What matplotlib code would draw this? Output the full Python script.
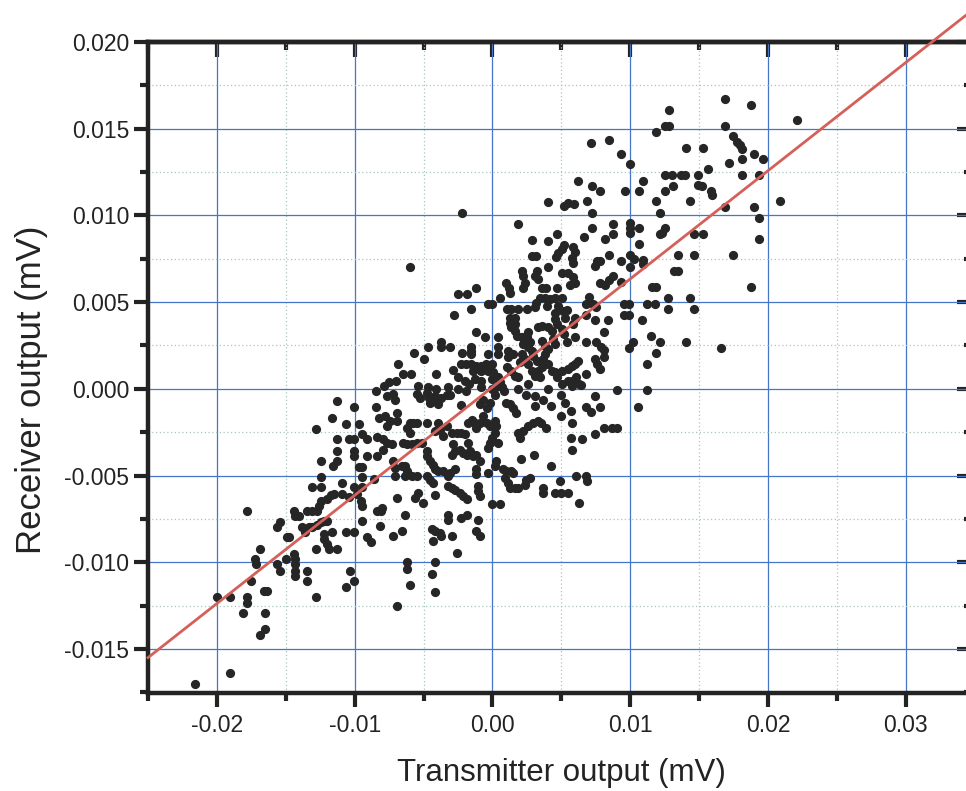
import numpy as np
import matplotlib
matplotlib.use("Agg")
import matplotlib.pyplot as plt
from matplotlib.ticker import FixedLocator, FixedFormatter, NullFormatter

# Paired samples, in microvolts (converted to mV before plotting).
# Grouped by area of the plot so that each pair of lists stays short.

# left, around x = -0.013 .. -0.008 mV, y = 0 .. -0.006 mV
tx_left_mid = [-8.47, -11.31, -10.05, -8.47, -11.63, -10.66, -9.68, -8.23, -12.84, -9.44,
               -9.08, -8.35, -11.26, -10.41, -10.05, -11.26, -10.05, -10.05, -9.08, -8.35,
               -12.48, -11.26, -11.55, -9.68, -9.44, -12.48, -9.44, -8.59, -13.08, -12.48,
               -10.90, -10.05, -9.44]
rx_left_mid = [-0.10, -0.73, -1.06, -1.06, -1.69, -2.02, -2.02, -1.69, -2.31, -2.63,
               -2.88, -2.79, -2.92, -2.92, -2.92, -3.56, -3.56, -3.85, -3.85, -3.85,
               -4.19, -4.19, -4.46, -4.52, -4.52, -5.10, -5.10, -5.19, -5.67, -5.67,
               -5.42, -5.67, -5.67]

# lower left tail
tx_lower_left = [-17.82, -14.42, -14.30, -14.05, -13.45, -13.08, -12.72, -12.60, -12.48, -11.99,
                 -11.75, -11.50, -10.90, -10.41, -9.81, -9.56, -9.44, -8.35, -8.11, -15.63,
                 -15.39, -14.90, -14.78, -13.81, -13.57, -13.33, -13.08, -12.72, -12.48, -12.23,
                 -11.99, -12.23, -12.23, -11.99, -11.87, -11.63, -11.26, -10.66, -10.05, -9.44,
                 -9.08, -8.83, -12.84, -16.84, -17.21, -17.14, -15.63, -15.39, -15.02, -14.42,
                 -14.30, -14.30, -14.30, -14.30, -13.45, -13.45, -10.34, -10.05, -10.66, -12.84,
                 -17.50, -16.36, -16.60, -17.82, -17.82, -18.11, -16.53, -16.48, -16.84, -20.00,
                 -19.08, -19.08, -21.58]
rx_lower_left = [-7.02, -7.02, -7.31, -7.31, -7.02, -7.02, -7.02, -6.73, -6.44, -6.35,
                 -6.15, -6.06, -6.06, -6.25, -6.06, -6.44, -6.73, -7.02, -7.02, -7.98,
                 -7.69, -8.56, -8.56, -7.98, -8.27, -7.98, -7.98, -7.88, -7.69, -7.60,
                 -7.60, -8.37, -8.65, -8.94, -9.23, -8.27, -9.23, -8.27, -8.27, -7.60,
                 -8.56, -8.85, -9.23, -9.23, -9.81, -10.10, -10.10, -10.48, -9.81, -9.52,
                 -9.81, -10.10, -10.48, -10.77, -10.48, -11.06, -10.48, -11.06, -11.40, -12.02,
                 -11.06, -11.63, -11.63, -12.02, -12.37, -12.94, -12.94, -13.85, -14.19, -12.02,
                 -12.02, -16.40, -17.02]

# centre, below zero
tx_center_low = [-7.20, -7.08, -7.68, -5.51, -5.27, -4.78, -4.59, -4.54, -4.18, -4.30,
                 -3.70, -3.33, -3.09, -3.94, -1.93, -2.25, -0.92, -0.68, -0.43, -0.19,
                 0.17, 0.82, 1.01, 1.26, 1.50, 1.74, 2.46, 3.07, 3.07, 3.67,
                 4.28, 5.00, 5.24, 5.00, 5.72, 5.80, -7.80, -7.44, -7.68, -6.96,
                 -6.96, -5.99, -5.75, -5.51, -6.23, -5.99, -4.78, -3.94, -4.18, -3.82,
                 -3.57, -3.33, -2.97, -2.61, -2.25, -2.00, -1.76, -1.52, -1.28, -1.16,
                 -0.92, -0.68, -0.43, -0.19, 0.17, 0.29, 0.17, -0.07, -0.19, -0.31,
                 0.41, 1.86, 1.98, 2.22, 2.58, 2.95, 3.31, 3.55, 3.91, 5.72,
                 5.80, -7.92, -7.68, -7.92, -7.32, -6.47, -6.23, -5.87, -5.51, -5.14,
                 -4.78, -4.54, -4.30, -4.18, -3.94, -3.57, -4.78, -2.97, -2.73, -2.37,
                 -2.13, -1.88, -1.64, -1.40, -1.16, -0.92, -2.85, -1.76, -7.20, -7.08,
                 -6.59, -6.35, -6.23, -3.21, -3.09, -2.73, -1.16, -1.16, 0.17, 0.29,
                 2.10, 3.02, 4.28, -7.08, -6.35, -5.87, -5.51, -4.78, -4.54, -4.30,
                 -0.31, 0.77, 1.01, 1.38, 1.50, 0.89, 1.14, 1.26, 1.62, 1.86,
                 2.46, 2.71, 2.34, 4.88, 4.52, 5.00, 5.48, 3.67, 3.67, 6.09,
                 6.28, -3.21, -2.97, -2.73, -2.37, -2.13, -1.84, -1.04, -1.04, -0.92,
                 -6.96, -5.63, -5.39, -5.02, -4.18, -0.07, 0.53, -8.04, -6.35, -3.21,
                 -3.21, -2.25, -1.88, -1.04, -8.16, -7.20, -6.59, -4.42, -4.18, -3.82,
                 -3.70, -4.30, -2.97, -1.16, -0.92, -2.61, -6.23, -6.23, -4.18, -4.42,
                 -5.99, -4.18, -6.96]
rx_center_low = [-0.27, -0.65, -0.42, -0.27, -0.52, -0.23, -0.52, -0.81, -0.42, -0.71,
                 -0.52, -0.33, -0.33, -0.90, -0.13, -0.96, -0.90, -0.62, -1.10, -0.81,
                 -0.33, -0.13, -0.81, -0.90, -1.10, -1.38, -0.38, -0.42, -1.00, -0.65,
                 -1.00, -0.38, -0.81, -1.54, -1.29, -1.96, -1.58, -1.87, -2.15, -1.38,
                 -1.87, -1.96, -1.96, -1.96, -2.25, -2.54, -1.96, -1.96, -2.44, -2.35,
                 -2.73, -2.15, -2.54, -2.54, -2.54, -2.63, -1.96, -1.77, -1.96, -2.25,
                 -1.96, -1.58, -1.96, -2.15, -1.87, -2.15, -2.54, -2.83, -3.12, -3.40,
                 -3.12, -2.54, -2.83, -2.44, -2.15, -1.96, -1.87, -1.96, -2.25, -2.83,
                 -3.50, -2.92, -3.12, -3.50, -3.21, -3.12, -3.21, -3.21, -3.12, -3.12,
                 -3.88, -4.17, -4.37, -4.65, -4.75, -4.75, -3.60, -3.79, -3.60, -3.50,
                 -3.69, -3.79, -3.60, -3.88, -3.79, -4.17, -3.21, -3.12, -4.17, -4.56,
                 -4.46, -4.46, -4.75, -5.04, -4.85, -4.65, -4.65, -4.94, -4.46, -4.17,
                 -4.07, -3.79, -4.46, -5.04, -5.04, -5.04, -5.04, -5.04, -5.23, -5.42,
                 -4.85, -4.65, -4.75, -4.75, -4.85, -5.13, -5.42, -5.71, -5.71, -5.71,
                 -5.23, -5.13, -5.52, -5.33, -6.00, -6.00, -6.00, -5.71, -6.00, -5.04,
                 -6.58, -5.61, -5.71, -5.81, -6.00, -6.19, -6.38, -5.61, -5.90, -6.19,
                 -6.29, -6.29, -6.00, -6.58, -6.10, -6.67, -6.67, -6.87, -7.25, -7.25,
                 -7.54, -7.44, -7.25, -7.54, -7.92, -8.50, -8.21, -8.10, -8.21, -8.31,
                 -8.50, -8.79, -8.50, -8.21, -8.50, -9.46, -10.00, -10.40, -10.00, -10.70,
                 -11.30, -11.70, -12.50]

# centre, above zero
tx_center_high = [4.05, 5.22, 5.51, 5.95, -2.21, 1.87, 2.84, 4.00, 4.66, 5.22,
                  5.02, 4.78, 4.59, 5.87, 6.00, 5.75, 5.87, 2.84, 3.13, -5.95,
                  2.11, 2.23, 2.35, 2.23, 3.20, 3.08, 3.33, 4.05, 5.02, 5.46,
                  5.87, 6.00, 5.63, 4.66, 3.57, 3.86, 0.95, 1.19, 1.26, -1.21,
                  -1.82, -2.50, 0.53, -0.32, -0.07, 1.02, 1.33, 1.87, 2.48, 3.13,
                  3.45, 3.81, 4.17, 4.54, 5.02, 3.08, 3.93, 4.78, 5.39, -1.53,
                  -2.79, 1.26, 1.26, 1.38, 1.63, 1.63, 1.63, 1.75, 4.54, 4.54,
                  4.66, 5.15, 5.27, 6.00, 5.87, 3.33, 3.57, 4.05, 4.30, 5.02,
                  5.22, 6.00, 5.39, -1.21, -0.56, 0.41, 2.60, 2.48, 2.72, 2.60,
                  2.84, 2.96, 3.20, 2.11, 2.23, 3.57, 3.81, 4.05, 3.81, 3.69,
                  4.42, 4.54, -4.68, -3.71, -3.71, -3.11, -1.53, -1.53, -5.66, -4.98,
                  -2.18, -1.53, -0.32, 0.41, 0.41, 1.14, 1.14, 1.50, 2.11, 2.35,
                  1.99, -2.26, -1.89, -1.53, -1.17, -0.80, -0.44, -0.07, -1.41, -0.80,
                  -0.32, 0.05, -2.86, -6.87, -6.50, -5.90, -6.99, -4.08, -2.50, -2.01,
                  -1.72, -1.29, -0.80, -0.07, 0.41, 0.53, 0.29, 1.02, 1.38, 1.63,
                  1.87, 2.60, 2.84, 3.08, 3.33, 3.45, 3.57, 4.05, 4.30, 4.54,
                  4.66, 5.02, 5.51, 5.75, 6.00, 6.24, 5.51, 5.80, 6.04, 6.29,
                  -7.84, -7.48, -5.41, -4.68, -4.08, -3.23, -2.50, -0.80, -0.07, 0.66,
                  1.87, 2.60, 4.05, 5.02, 5.75]
rx_center_high = [10.76, 10.52, 10.71, 10.65, 10.13, 9.52, 8.60, 8.55, 8.93, 8.32,
                  8.09, 7.84, 7.59, 8.16, 7.90, 7.55, 7.27, 7.65, 7.65, 7.02,
                  6.79, 6.50, 6.12, 5.83, 6.79, 6.50, 6.31, 7.02, 6.69, 6.69,
                  6.44, 6.12, 5.98, 5.83, 5.83, 5.83, 6.12, 5.83, 5.54, 5.83,
                  5.49, 5.49, 5.22, 4.88, 4.88, 4.59, 4.59, 4.59, 4.59, 4.97,
                  5.26, 5.26, 5.16, 5.26, 5.26, 4.72, 4.78, 4.78, 4.53, 4.59,
                  4.24, 4.11, 3.82, 3.54, 4.11, 3.73, 3.35, 3.06, 4.40, 4.02,
                  3.73, 4.49, 4.11, 4.11, 3.73, 3.54, 3.63, 3.54, 3.35, 3.44,
                  3.15, 2.96, 2.68, 3.25, 2.96, 2.96, 3.25, 2.96, 2.68, 2.39,
                  2.20, 1.91, 1.63, 2.96, 2.58, 2.77, 2.49, 2.29, 2.01, 1.72,
                  2.87, 2.58, 2.39, 2.68, 2.39, 2.39, 2.43, 2.20, 2.05, 1.72,
                  2.05, 2.01, 2.01, 2.39, 2.01, 2.20, 1.82, 2.01, 2.01, 1.72,
                  1.53, 1.43, 1.43, 1.43, 1.34, 1.34, 1.43, 1.43, 1.05, 1.05,
                  1.05, 0.96, 1.09, 1.43, 0.86, 0.86, 0.44, 0.86, 0.67, 0.48,
                  0.29, 0.57, 0.48, 0.57, 0.67, 0.38, 0.10, 1.24, 1.05, 0.76,
                  0.67, 1.43, 1.05, 0.76, 1.05, 0.67, 1.24, 1.43, 1.05, 0.96,
                  0.67, 1.05, 1.15, 1.34, 1.43, 1.63, 0.48, 0.48, 0.67, 0.29,
                  0.19, 0.38, 0.19, 0.10, 0.00, 0.10, 0.00, 0.10, 0.00, 0.10,
                  0.00, 0.29, 0.00, 0.29, 0.19]

# right of centre, middle band
tx_right_mid = [9.56, 9.93, 9.56, 9.93, 11.21, 11.80, 12.72, 12.77, 14.30, 14.61,
                10.85, 8.35, 7.43, 6.77, 6.77, 7.01, 7.26, 7.50, 8.06, 11.50,
                12.16, 10.22, 9.93, 14.05, 16.55, 11.87, 6.77, 7.50, 7.86, 8.06,
                8.11, 7.43, 7.57, 7.79, 11.19, 6.77, 6.41, 9.03, 11.19, 7.43,
                6.77, 7.14, 7.79, 10.58, 8.06, 8.71, 9.03, 7.43, 6.53, 6.77,
                6.84]
rx_right_mid = [4.90, 4.90, 4.23, 4.23, 4.90, 4.90, 5.25, 4.58, 5.25, 4.58,
                3.95, 3.95, 3.95, 4.23, 4.90, 5.29, 4.90, 4.71, 3.28, 3.03,
                2.70, 2.70, 2.38, 2.70, 2.38, 2.07, 2.70, 2.70, 2.41, 2.22,
                1.84, 1.74, 1.46, 1.17, 1.46, 0.88, 0.21, -0.08, -0.08, -0.42,
                -1.03, -1.32, -1.03, -1.03, -2.28, -2.28, -2.28, -2.61, -2.91, -5.02,
                -5.34]

# upper right
tx_upper_right = [16.84, 18.74, 12.78, 12.54, 12.83, 11.86, 16.84, 8.43, 7.17, 17.44,
                  17.73, 17.97, 18.14, 14.03, 15.31, 9.35, 18.99, 19.66, 18.09, 17.13,
                  10.00, 15.63, 12.49, 13.02, 13.67, 13.99, 14.95, 18.09, 19.35, 10.92,
                  7.22, 7.83, 9.64, 10.60, 12.49, 13.09, 14.95, 15.24, 15.87, 15.92,
                  6.86, 11.86, 14.35, 12.17, 16.84, 19.01, 20.87, 7.22, 19.37, 8.74,
                  7.22, 10.00, 10.00, 10.00, 10.65, 12.49, 12.29, 12.13, 14.66, 15.31,
                  6.62, 8.14, 8.74, 19.37, 10.65, 8.43, 10.00, 10.24, 13.45, 14.66,
                  17.49, 7.58, 7.83, 7.46, 9.35, 10.92, 10.92, 10.00, 13.14, 13.43,
                  8.74, 8.43, 7.83, 8.14, 9.35, 11.57, 11.86, 18.74, 22.10, 6.20]
rx_upper_right = [16.71, 16.37, 16.05, 15.13, 15.13, 14.81, 15.13, 14.34, 14.20, 14.56,
                  14.24, 14.05, 13.82, 13.90, 13.90, 13.57, 13.57, 13.23, 13.23, 13.00,
                  12.94, 12.66, 12.34, 12.34, 12.34, 12.34, 12.34, 12.34, 12.34, 12.00,
                  11.67, 11.39, 11.39, 11.39, 11.39, 11.67, 11.77, 11.67, 11.43, 11.16,
                  10.82, 10.82, 10.82, 10.15, 10.48, 10.48, 10.82, 10.15, 9.87, 9.52,
                  9.26, 9.58, 9.30, 9.01, 9.26, 9.26, 9.01, 8.92, 8.95, 8.95,
                  8.73, 8.63, 8.92, 8.63, 8.35, 7.72, 7.72, 7.49, 7.72, 7.72,
                  7.72, 7.40, 7.40, 7.11, 7.40, 7.43, 7.17, 7.05, 6.79, 6.79,
                  6.48, 6.25, 6.10, 5.97, 6.16, 5.87, 5.87, 5.87, 15.50, 12.00]

# fitted line  (receiver = slope * transmitter + intercept, in mV)
fit_slope = 0.624
fit_intercept = 0.0001

# axis ticks
x_major = [-0.02, -0.01, 0.00, 0.01, 0.02, 0.03]
x_labels = ["-0.02", "-0.01", "0.00", "0.01", "0.02", "0.03"]
x_minor = [-0.025, -0.015, -0.005, 0.005, 0.015, 0.025]
y_major = [-0.015, -0.010, -0.005, 0.000, 0.005, 0.010, 0.015, 0.020]
y_labels = ["-0.015", "-0.010", "-0.005", "0.000", "0.005", "0.010", "0.015", "0.020"]
y_minor = [-0.0175, -0.0125, -0.0075, -0.0025, 0.0025, 0.0075, 0.0125, 0.0175]

tx_groups = [tx_left_mid, tx_lower_left, tx_center_low, tx_center_high, tx_right_mid, tx_upper_right]
rx_groups = [rx_left_mid, rx_lower_left, rx_center_low, rx_center_high, rx_right_mid, rx_upper_right]
for a, b in zip(tx_groups, rx_groups):
    assert len(a) == len(b), (len(a), len(b))

transmitter = np.concatenate([np.asarray(g, float) for g in tx_groups]) / 1000.0
receiver = np.concatenate([np.asarray(g, float) for g in rx_groups]) / 1000.0

plt.rcParams['font.family'] = ['Liberation Sans', 'DejaVu Sans']
ink = '#232323'

fig = plt.figure(figsize=(9.66, 7.91), dpi=100)
ax = fig.add_axes([148 / 966, 98 / 791, 824 / 966, 651 / 791])
ax.set_xlim(-0.025, 0.0348)
ax.set_ylim(-0.01754, 0.020)

# grid
ax.set_axisbelow(True)
ax.grid(which='major', color='#4677c6', lw=0.9, ls='-')
ax.grid(which='minor', color='#a7c8b8', lw=0.9, ls=(0, (1, 2)))

# data and fit
ax.scatter(transmitter, receiver, s=44, c='#262626', linewidths=0, zorder=2)
xf = np.array([-0.025, 0.0345])
ax.plot(xf, fit_slope * xf + fit_intercept, color='#d5605a', lw=2.0,
        zorder=3, clip_on=False)

# ticks
ax.xaxis.set_major_locator(FixedLocator(x_major))
ax.xaxis.set_major_formatter(FixedFormatter(x_labels))
ax.xaxis.set_minor_locator(FixedLocator(x_minor))
ax.yaxis.set_major_locator(FixedLocator(y_major))
ax.yaxis.set_major_formatter(FixedFormatter(y_labels))
ax.yaxis.set_minor_locator(FixedLocator(y_minor))
ax.tick_params(which='major', direction='out', length=10, width=3, color=ink,
               labelsize=16.5, labelcolor=ink, top=False, right=False)
ax.tick_params(which='minor', direction='out', length=5.5, width=3, color=ink,
               top=False, right=False)
ax.tick_params(axis='x', which='major', pad=5)
ax.tick_params(axis='y', which='major', pad=3.5)

for side in ['left', 'bottom', 'top', 'right']:
    ax.spines[side].set_linewidth(3.2)
    ax.spines[side].set_color(ink)

# inward ticks along the top and right edges
top = ax.secondary_xaxis('top')
top.xaxis.set_major_locator(FixedLocator(x_major))
top.xaxis.set_minor_locator(FixedLocator(x_minor))
top.xaxis.set_major_formatter(NullFormatter())
top.tick_params(which='major', direction='in', length=11, width=3, color=ink)
top.tick_params(which='minor', direction='in', length=6, width=3, color=ink)
top.spines['top'].set_linewidth(3.2)
top.spines['top'].set_color(ink)

right = ax.secondary_yaxis('right')
right.yaxis.set_major_locator(FixedLocator(y_major))
right.yaxis.set_minor_locator(FixedLocator(y_minor))
right.yaxis.set_major_formatter(NullFormatter())
right.tick_params(which='major', direction='in', length=11, width=3, color=ink)
right.tick_params(which='minor', direction='in', length=6, width=3, color=ink)
right.spines['right'].set_linewidth(3.2)
right.spines['right'].set_color(ink)

ax.set_xlabel('Transmitter output (mV)', fontsize=22.5, color=ink)
ax.xaxis.set_label_coords(0.502, -0.1006)
ax.set_ylabel('Receiver output (mV)', fontsize=25, color=ink)
ax.yaxis.set_label_coords(-0.1215, 0.4654)

fig.savefig('out.png', dpi=100)
